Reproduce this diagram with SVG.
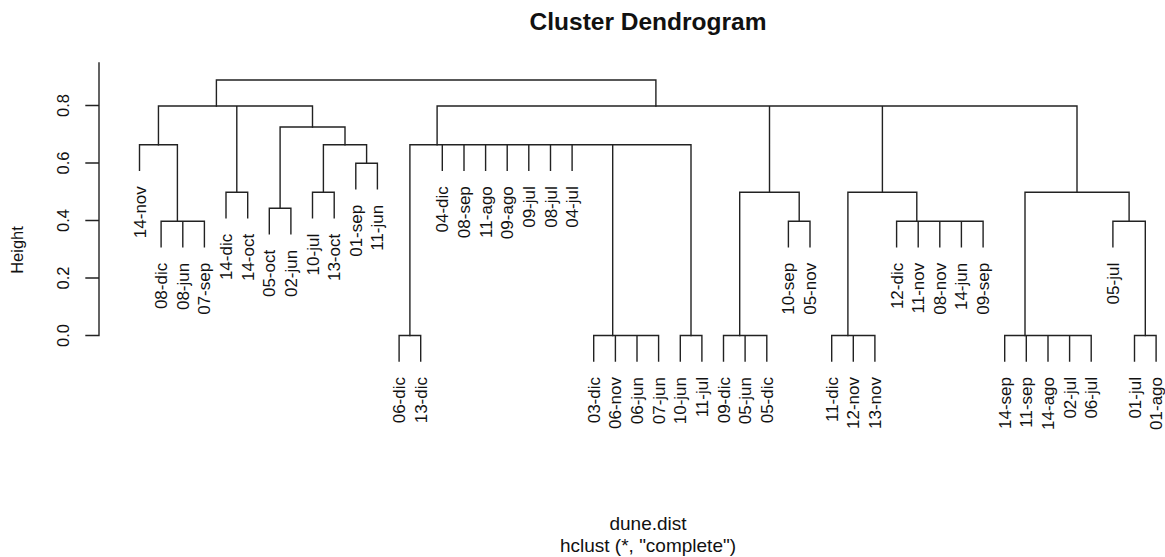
<svg xmlns="http://www.w3.org/2000/svg" width="1165" height="557" viewBox="0 0 1165 557">
<style>
.l{stroke:#222;stroke-width:1.4;fill:none;stroke-linecap:square}
.t{font-family:"Liberation Sans",Arial,sans-serif;fill:#111}
.lab{font-size:17px;text-anchor:end}
.ax{font-size:16.5px;text-anchor:middle}
</style>
<rect width="1165" height="557" fill="#fff"/>
<text class="t" x="648" y="30" font-size="24.5" font-weight="bold" text-anchor="middle">Cluster Dendrogram</text>
<text class="t" x="648" y="530" font-size="19" text-anchor="middle">dune.dist</text>
<text class="t" x="648" y="552" font-size="19" text-anchor="middle">hclust (*, "complete")</text>
<g id="axis">
<path class="l" d="M99 63V335.5M86 335.5H99M86 278H99M86 220.5H99M86 163H99M86 105.5H99"/>
<g class="t ax">
<text transform="translate(69,335.5) rotate(-90)">0.0</text>
<text transform="translate(69,278) rotate(-90)">0.2</text>
<text transform="translate(69,220.5) rotate(-90)">0.4</text>
<text transform="translate(69,163) rotate(-90)">0.6</text>
<text transform="translate(69,105.5) rotate(-90)">0.8</text>
<text transform="translate(22.5,250) rotate(-90)">Height</text>
</g>
</g>
<g id="connectors" class="l">
<path d="M216.4 106V80H655.9V106"/>
<path d="M158.45 144.7V106H312.5V127M236.8 192.3V106"/>
<path d="M139.5 170.2V144.7H177.4V221.3"/>
<path d="M161.1 246.8V221.3H204.4V246.8M182.8 246.8V221.3"/>
<path d="M226 217.8V192.3H247.7V217.8"/>
<path d="M280.1 208.3V127H345V144.7"/>
<path d="M269.3 233.8V208.3H290.9V233.8"/>
<path d="M323.4 192.3V144.7H366.6V163.3"/>
<path d="M312.5 217.8V192.3H334.2V217.8"/>
<path d="M355.8 188.8V163.3H377.4V188.8"/>
<path d="M437.1 144.7V106H1077V192.3M769.5 192.3V106M882.4 192.3V106"/>
<path d="M409.9 335.5V144.7H691V335.5M612.7 335.5V144.7"/>
<path d="M442.3 170.2V144.7M464 170.2V144.7M485.6 170.2V144.7M507.2 170.2V144.7M528.8 170.2V144.7M550.5 170.2V144.7M572.1 170.2V144.7"/>
<path d="M399.1 361V335.5H420.7V361"/>
<path d="M593.7 361V335.5H658.6V361M615.4 361V335.5M637 361V335.5"/>
<path d="M680.3 361V335.5H701.9V361"/>
<path d="M739.7 335.5V192.3H799.2V221.3"/>
<path d="M723.5 361V335.5H766.8V361M745.1 361V335.5"/>
<path d="M788.4 246.8V221.3H810V246.8"/>
<path d="M847.9 335.5V192.3H916.8V221.3"/>
<path d="M831.7 361V335.5H874.9V361M853.3 361V335.5"/>
<path d="M896.6 246.8V221.3H983.1V246.8M918.2 246.8V221.3M939.8 246.8V221.3M961.4 246.8V221.3"/>
<path d="M1025 335.5V192.3H1129.1V221.3"/>
<path d="M1004.7 361V335.5H1091.2V361M1026.3 361V335.5M1048 361V335.5M1069.6 361V335.5"/>
<path d="M1112.9 246.8V221.3H1145.3V335.5"/>
<path d="M1134.5 361V335.5H1156.1V361"/>
</g>
<g id="leaves" class="t lab">
<g id="n-14-nov"><text transform="translate(145.5,186.2) rotate(-90)">14-nov</text></g>
<g id="n-08-dic"><text transform="translate(167.1,262.8) rotate(-90)">08-dic</text></g>
<g id="n-08-jun"><text transform="translate(188.8,262.8) rotate(-90)">08-jun</text></g>
<g id="n-07-sep"><text transform="translate(210.4,262.8) rotate(-90)">07-sep</text></g>
<g id="n-14-dic"><text transform="translate(232,233.8) rotate(-90)">14-dic</text></g>
<g id="n-14-oct"><text transform="translate(253.7,233.8) rotate(-90)">14-oct</text></g>
<g id="n-05-oct"><text transform="translate(275.3,249.8) rotate(-90)">05-oct</text></g>
<g id="n-02-jun"><text transform="translate(296.9,249.8) rotate(-90)">02-jun</text></g>
<g id="n-10-jul"><text transform="translate(318.5,233.8) rotate(-90)">10-jul</text></g>
<g id="n-13-oct"><text transform="translate(340.2,233.8) rotate(-90)">13-oct</text></g>
<g id="n-01-sep"><text transform="translate(361.8,204.8) rotate(-90)">01-sep</text></g>
<g id="n-11-jun"><text transform="translate(383.4,204.8) rotate(-90)">11-jun</text></g>
<g id="n-06-dic"><text transform="translate(405.1,377) rotate(-90)">06-dic</text></g>
<g id="n-13-dic"><text transform="translate(426.7,377) rotate(-90)">13-dic</text></g>
<g id="n-04-dic"><text transform="translate(448.3,186.2) rotate(-90)">04-dic</text></g>
<g id="n-08-sep"><text transform="translate(470,186.2) rotate(-90)">08-sep</text></g>
<g id="n-11-ago"><text transform="translate(491.6,186.2) rotate(-90)">11-ago</text></g>
<g id="n-09-ago"><text transform="translate(513.2,186.2) rotate(-90)">09-ago</text></g>
<g id="n-09-jul"><text transform="translate(534.8,186.2) rotate(-90)">09-jul</text></g>
<g id="n-08-jul"><text transform="translate(556.5,186.2) rotate(-90)">08-jul</text></g>
<g id="n-04-jul"><text transform="translate(578.1,186.2) rotate(-90)">04-jul</text></g>
<g id="n-03-dic"><text transform="translate(599.7,377) rotate(-90)">03-dic</text></g>
<g id="n-06-nov"><text transform="translate(621.4,377) rotate(-90)">06-nov</text></g>
<g id="n-06-jun"><text transform="translate(643,377) rotate(-90)">06-jun</text></g>
<g id="n-07-jun"><text transform="translate(664.6,377) rotate(-90)">07-jun</text></g>
<g id="n-10-jun"><text transform="translate(686.3,377) rotate(-90)">10-jun</text></g>
<g id="n-11-jul"><text transform="translate(707.9,377) rotate(-90)">11-jul</text></g>
<g id="n-09-dic"><text transform="translate(729.5,377) rotate(-90)">09-dic</text></g>
<g id="n-05-jun"><text transform="translate(751.1,377) rotate(-90)">05-jun</text></g>
<g id="n-05-dic"><text transform="translate(772.8,377) rotate(-90)">05-dic</text></g>
<g id="n-10-sep"><text transform="translate(794.4,262.8) rotate(-90)">10-sep</text></g>
<g id="n-05-nov"><text transform="translate(816,262.8) rotate(-90)">05-nov</text></g>
<g id="n-11-dic"><text transform="translate(837.7,377) rotate(-90)">11-dic</text></g>
<g id="n-12-nov"><text transform="translate(859.3,377) rotate(-90)">12-nov</text></g>
<g id="n-13-nov"><text transform="translate(880.9,377) rotate(-90)">13-nov</text></g>
<g id="n-12-dic"><text transform="translate(902.6,262.8) rotate(-90)">12-dic</text></g>
<g id="n-11-nov"><text transform="translate(924.2,262.8) rotate(-90)">11-nov</text></g>
<g id="n-08-nov"><text transform="translate(945.8,262.8) rotate(-90)">08-nov</text></g>
<g id="n-14-jun"><text transform="translate(967.4,262.8) rotate(-90)">14-jun</text></g>
<g id="n-09-sep"><text transform="translate(989.1,262.8) rotate(-90)">09-sep</text></g>
<g id="n-14-sep"><text transform="translate(1010.7,377) rotate(-90)">14-sep</text></g>
<g id="n-11-sep"><text transform="translate(1032.3,377) rotate(-90)">11-sep</text></g>
<g id="n-14-ago"><text transform="translate(1054,377) rotate(-90)">14-ago</text></g>
<g id="n-02-jul"><text transform="translate(1075.6,377) rotate(-90)">02-jul</text></g>
<g id="n-06-jul"><text transform="translate(1097.2,377) rotate(-90)">06-jul</text></g>
<g id="n-05-jul"><text transform="translate(1118.9,262.8) rotate(-90)">05-jul</text></g>
<g id="n-01-jul"><text transform="translate(1140.5,377) rotate(-90)">01-jul</text></g>
<g id="n-01-ago"><text transform="translate(1162.1,377) rotate(-90)">01-ago</text></g>
</g>
</svg>
